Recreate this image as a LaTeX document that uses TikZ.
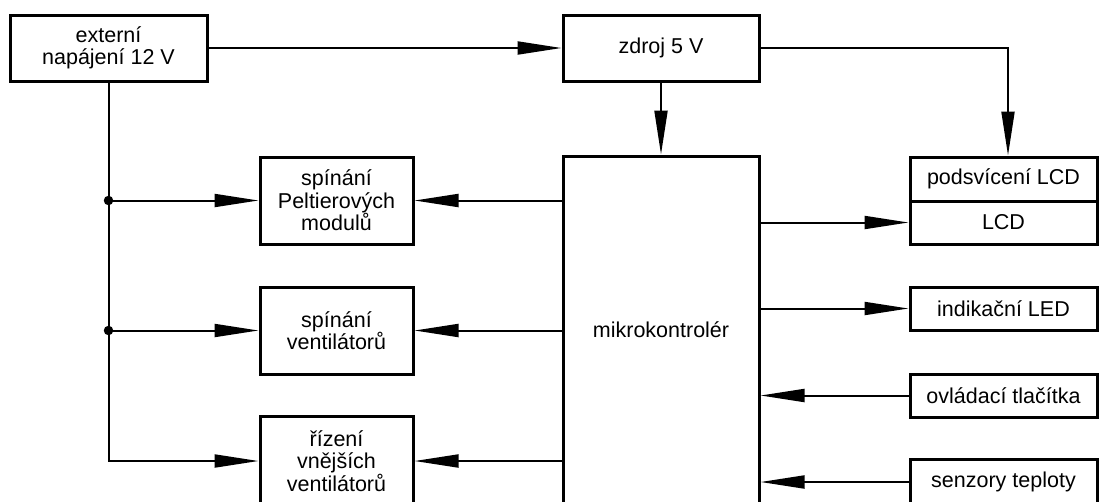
\documentclass[tikz,border=0pt]{standalone}
\usepackage{fontspec}
\setmainfont{Liberation Sans}
\usetikzlibrary{arrows.meta}
\begin{document}
\begin{tikzpicture}[x=1pt,y=-1pt,
 blk/.style={draw, line width=3pt, rectangle, inner sep=0pt, align=center, font=\fontsize{21.5}{22.5}\selectfont},
 conn/.style={line width=2pt, -{Triangle[length=44pt,width=13pt]}},
 ln/.style={line width=2pt},
 jdot/.style={circle, fill, inner sep=0pt, minimum size=9.5pt}]
\useasboundingbox (0,0) rectangle (1099,501);
\clip (0,0) rectangle (1099,501);
\node[blk, minimum width=197pt, minimum height=66pt] (ext) at (108.5,48) {externí\\napájení 12 V};
\node[blk, minimum width=196pt, minimum height=66pt] (zdroj) at (661,48) {zdroj 5 V};
\node[blk, minimum width=196pt, minimum height=348pt] (mcu) at (661,330) {mikrokontrolér};
\node[blk, minimum width=153pt, minimum height=87pt] (pelt) at (336.5,200.5) {spínání\\Peltierových\\modulů};
\node[blk, minimum width=153pt, minimum height=87pt] (vent) at (336.5,330.5) {spínání\\ventilátorů};
\node[blk, minimum width=153pt, minimum height=90pt] (riz) at (336.5,461) {řízení\\vnějších\\ventilátorů};
\node[blk, minimum width=187pt, minimum height=44pt] (podsv) at (1003.5,179) {podsvícení LCD};
\node[blk, minimum width=187pt, minimum height=43pt] (lcd) at (1003.5,222.5) {LCD};
\node[blk, minimum width=187pt, minimum height=43pt] (led) at (1003.5,308.5) {indikační LED};
\node[blk, minimum width=187pt, minimum height=43pt] (ovl) at (1003.5,395.5) {ovládací tlačítka};
\node[blk, minimum width=187pt, minimum height=46pt] (senz) at (1003.5,482) {senzory teploty};
% power
\draw[conn] (ext.east) -- (zdroj.west);
\draw[conn] (zdroj.south) -- (mcu.north);
\draw[conn] (zdroj.east) -| ([xshift=4.5pt]podsv.north);
\draw[conn] (ext.south) |- (riz.west);
\node[jdot] (d1) at (ext.south |- pelt.west) {};
\node[jdot] (d2) at (ext.south |- vent.west) {};
\draw[conn] (d1.center) -- (pelt.west);
\draw[conn] (d2.center) -- (vent.west);
% mcu outputs
\draw[conn] (mcu.west |- pelt.east) -- (pelt.east);
\draw[conn] (mcu.west |- vent.east) -- (vent.east);
\draw[conn] (mcu.west |- riz.east) -- (riz.east);
\draw[conn] (mcu.east |- lcd.west) -- (lcd.west);
\draw[conn] (mcu.east |- led.west) -- (led.west);
% mcu inputs
\draw[conn] (ovl.west) -- (mcu.east |- ovl.west);
\draw[conn] (senz.west) -- (mcu.east |- senz.west);
\end{tikzpicture}
\end{document}
